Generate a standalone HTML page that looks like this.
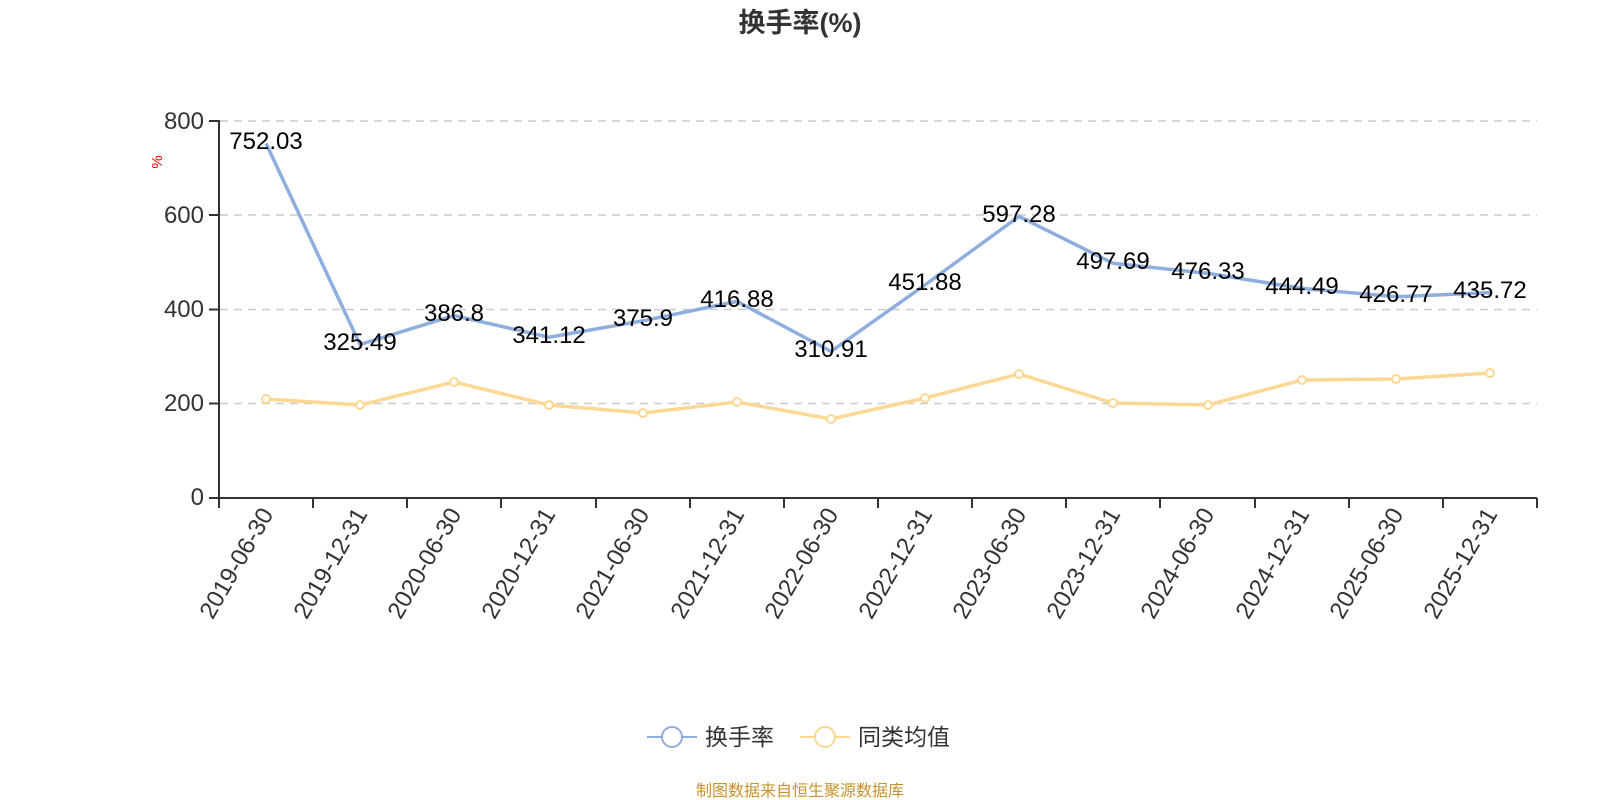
<!DOCTYPE html>
<html><head><meta charset="utf-8"><style>body{margin:0;background:#fff}svg{display:block}</style></head>
<body>
<svg width="1600" height="800" xmlns="http://www.w3.org/2000/svg" font-family="'Liberation Sans','Noto Sans CJK SC',sans-serif">
<text x="800" y="32" text-anchor="middle" font-size="27" font-weight="bold" fill="#333">换手率(%)</text>
<g stroke="#ccc" stroke-width="1.5" stroke-dasharray="8,6">
<line x1="220" x2="1537" y1="121" y2="121"/><line x1="220" x2="1537" y1="215" y2="215"/>
<line x1="220" x2="1537" y1="309.5" y2="309.5"/><line x1="220" x2="1537" y1="403.5" y2="403.5"/>
</g>
<g stroke="#333" stroke-width="2" fill="none">
<line x1="219" y1="120" x2="219" y2="498"/><line x1="219" y1="498" x2="1537" y2="498"/>
<line x1="209" y1="121" x2="219" y2="121"/><line x1="209" y1="215" x2="219" y2="215"/><line x1="209" y1="309.5" x2="219" y2="309.5"/><line x1="209" y1="403.5" x2="219" y2="403.5"/><line x1="209" y1="498" x2="219" y2="498"/>
<path d="M219 498v10M313 498v10M407 498v10M501 498v10M596 498v10M690 498v10M784 498v10M878 498v10M972 498v10M1066 498v10M1160 498v10M1255 498v10M1349 498v10M1443 498v10M1537 498v10"/>
</g>
<g font-size="24" fill="#333" text-anchor="end">
<text x="204" y="129">800</text><text x="204" y="223">600</text><text x="204" y="317">400</text><text x="204" y="411">200</text><text x="204" y="505">0</text>
</g>
<text x="162" y="162" font-size="15" fill="red" transform="rotate(-90 162 162)" text-anchor="middle">%</text>
<g font-size="24" fill="#333" text-anchor="end">
<text transform="translate(274,514) rotate(-60)">2019-06-30</text>
<text transform="translate(368,514) rotate(-60)">2019-12-31</text>
<text transform="translate(462,514) rotate(-60)">2020-06-30</text>
<text transform="translate(556,514) rotate(-60)">2020-12-31</text>
<text transform="translate(650,514) rotate(-60)">2021-06-30</text>
<text transform="translate(745,514) rotate(-60)">2021-12-31</text>
<text transform="translate(839,514) rotate(-60)">2022-06-30</text>
<text transform="translate(933,514) rotate(-60)">2022-12-31</text>
<text transform="translate(1027,514) rotate(-60)">2023-06-30</text>
<text transform="translate(1121,514) rotate(-60)">2023-12-31</text>
<text transform="translate(1215,514) rotate(-60)">2024-06-30</text>
<text transform="translate(1310,514) rotate(-60)">2024-12-31</text>
<text transform="translate(1404,514) rotate(-60)">2025-06-30</text>
<text transform="translate(1498,514) rotate(-60)">2025-12-31</text>
</g>
<polyline fill="none" stroke="#fdd894" stroke-width="3.5" points="266,399 360,405 454,382 549,405 643,413 737,402 831,419 925,398 1019,374 1113,403 1208,405 1302,380 1396,379 1490,373"/>
<g fill="#fff" stroke="#fdd894" stroke-width="2">
<circle cx="266" cy="399" r="4"/><circle cx="360" cy="405" r="4"/><circle cx="454" cy="382" r="4"/><circle cx="549" cy="405" r="4"/><circle cx="643" cy="413" r="4"/><circle cx="737" cy="402" r="4"/><circle cx="831" cy="419" r="4"/><circle cx="925" cy="398" r="4"/><circle cx="1019" cy="374" r="4"/><circle cx="1113" cy="403" r="4"/><circle cx="1208" cy="405" r="4"/><circle cx="1302" cy="380" r="4"/><circle cx="1396" cy="379" r="4"/><circle cx="1490" cy="373" r="4"/>
</g>
<polyline fill="none" stroke="#8eaede" stroke-width="3.5" points="266,143.4 360,344.5 454,315.6 549,337.2 643,320.8 737,301.4 831,351.4 925,284.9 1019,216.4 1113,263.3 1208,273.4 1302,288.4 1396,296.8 1490,292.6"/>
<g font-size="24" fill="#000" text-anchor="middle">
<text x="266" y="149">752.03</text><text x="360" y="350">325.49</text><text x="454" y="321">386.8</text><text x="549" y="343">341.12</text><text x="643" y="326">375.9</text><text x="737" y="307">416.88</text><text x="831" y="357">310.91</text><text x="925" y="290">451.88</text><text x="1019" y="222">597.28</text><text x="1113" y="269">497.69</text><text x="1208" y="279">476.33</text><text x="1302" y="294">444.49</text><text x="1396" y="302">426.77</text><text x="1490" y="298">435.72</text>
</g>
<line x1="647" y1="737" x2="697" y2="737" stroke="#8eaede" stroke-width="2"/><circle cx="672" cy="737" r="10" fill="#fff" stroke="#8eaede" stroke-width="2"/>
<text x="705" y="745" font-size="23" fill="#333">换手率</text>
<line x1="800" y1="737" x2="850" y2="737" stroke="#fdd894" stroke-width="2"/><circle cx="825" cy="737" r="10" fill="#fff" stroke="#fdd894" stroke-width="2"/>
<text x="858" y="745" font-size="23" fill="#333">同类均值</text>
<text x="800" y="796" text-anchor="middle" font-size="16" fill="#c8932a">制图数据来自恒生聚源数据库</text>
</svg>
</body></html>
